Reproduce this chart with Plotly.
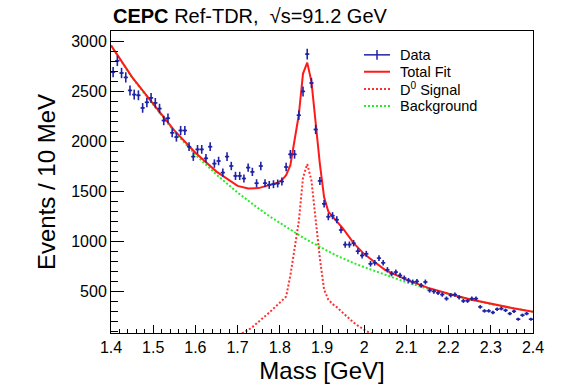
import plotly.graph_objects as go

# ---- data: bin centres (10 MeV bins) and counts ----
mass = [1.405 + 0.01 * i for i in range(100)]
counts = [
    2695, 2808, 2686, 2642, 2512, 2470, 2463, 2337, 2393, 2437,
    2387, 2330, 2211, 2234, 2088, 2045, 2111, 2111, 1949, 1850,
    1922, 1922, 1833, 1949, 1780, 1806, 1690, 1850, 1756, 1657,
    1657, 1631, 1740, 1697, 1584, 1756, 1584, 1567, 1574, 1581,
    1601, 1746, 1873, 1873, 2264, 2502, 2875, 2586, 2121, 1607,
    1378, 1249, 1259, 1219, 1116, 970, 970, 984, 904, 861,
    878, 778, 788, 835, 788, 718, 679, 695, 662, 636,
    612, 596, 602, 562, 596, 512, 502, 487, 470, 430,
    463, 470, 443, 407, 407, 430, 430, 347, 307, 307,
    291, 324, 330, 313, 280, 303, 224, 264, 280, 224,
]
errors = [c ** 0.5 for c in counts]

# ---- fitted curves ----
fit_mass = [1.40, 1.45, 1.50, 1.55, 1.60, 1.65, 1.70, 1.725, 1.75, 1.775, 1.795,
            1.805, 1.815, 1.825, 1.835, 1.845, 1.855, 1.865, 1.875, 1.885, 1.895,
            1.905, 1.915, 1.925, 1.935, 1.95, 1.975, 2.00, 2.05, 2.10, 2.15,
            2.20, 2.25, 2.30, 2.35, 2.40]
background = [2960, 2640, 2370, 2100, 1870, 1670, 1490, 1408, 1330, 1255, 1200,
              1172, 1145, 1118, 1092, 1066, 1040, 1016, 992, 968, 945,
              922, 900, 880, 860, 830, 785, 745, 665, 593, 530,
              472, 421, 376, 335, 298]
total_fit = [2962, 2645, 2378, 2112, 1888, 1700, 1557, 1532, 1535, 1562, 1590,
             1615, 1665, 1765, 2010, 2266, 2680, 2790, 2600, 2168, 1775,
             1442, 1300, 1250, 1205, 1130, 985, 875, 715, 620, 540,
             478, 424, 378, 336, 298]

sig_mass = [1.665, 1.675, 1.685, 1.695, 1.705, 1.715, 1.725, 1.735, 1.745, 1.755,
            1.765, 1.775, 1.785, 1.795, 1.805, 1.815, 1.825, 1.835, 1.845, 1.855,
            1.865, 1.875, 1.885, 1.895, 1.905, 1.915, 1.925, 1.935, 1.945, 1.955,
            1.965, 1.975, 1.985, 1.995, 2.005, 2.015, 2.025, 2.035, 2.045, 2.055]
signal = [30, 38, 45, 55, 70, 90, 115, 145, 180, 215,
          250, 290, 330, 370, 405, 450, 660, 930, 1200, 1640,
          1775, 1610, 1200, 830, 520, 420, 375, 345, 305, 265,
          225, 190, 160, 130, 105, 85, 68, 55, 45, 36]

legend_labels = ["Data", "Total Fit", "D<sup>0</sup> Signal", "Background"]

FONT = "Liberation Sans, Arial, Helvetica, sans-serif"
BLUE = "#1f23a6"
RED = "#ff1a1a"
RED_DOT = "#ff3030"
GREEN = "#22ee22"

fig = go.Figure()

fig.add_trace(go.Scatter(
    x=fit_mass, y=background, mode="lines", showlegend=False,
    line=dict(color=GREEN, width=2, dash="2px,2px"), hoverinfo="skip"))
fig.add_trace(go.Scatter(
    x=sig_mass, y=signal, mode="lines", showlegend=False,
    line=dict(color=RED_DOT, width=2, dash="2px,2px"), hoverinfo="skip"))
fig.add_trace(go.Scatter(
    x=fit_mass, y=total_fit, mode="lines", showlegend=False,
    line=dict(color=RED, width=2), hoverinfo="skip"))
fig.add_trace(go.Scatter(
    x=mass, y=counts, mode="markers", showlegend=False,
    marker=dict(color=BLUE, size=2, symbol="square"),
    error_y=dict(type="data", array=errors, color=BLUE, thickness=1.6, width=0),
    error_x=dict(type="constant", value=0.005, color=BLUE, thickness=1.6, width=0)))

# ---- hand-placed legend (paper coords of the plot area) ----
X0, Y0, W, H = 111, 31, 422, 304          # plot-area box in pixels
def px(x):
    return (x - X0) / W
def py(y):
    return (Y0 + H - y) / H

rows = [55, 72, 89.5, 106.5]
styles = [dict(color=BLUE, width=1.5),
          dict(color=RED, width=2),
          dict(color=RED_DOT, width=2, dash="2px,2px"),
          dict(color=GREEN, width=2, dash="2px,2px")]
for label, yy, st in zip(legend_labels, rows, styles):
    fig.add_shape(type="line", xref="paper", yref="paper",
                  x0=px(364), x1=px(390), y0=py(yy), y1=py(yy), line=st)
    fig.add_annotation(text=label, xref="paper", yref="paper",
                       x=px(398), y=py(yy), xanchor="left", yanchor="middle",
                       showarrow=False, font=dict(size=14.5, family=FONT))
fig.add_shape(type="line", xref="paper", yref="paper",
              x0=px(377), x1=px(377), y0=py(rows[0] - 5), y1=py(rows[0] + 5),
              line=dict(color=BLUE, width=1.5))

fig.add_annotation(text="<b>CEPC</b> Ref-TDR,  √s=91.2 GeV",
                   xref="paper", yref="paper", x=0.0, y=1.0,
                   xanchor="left", yanchor="bottom", yshift=2,
                   showarrow=False, font=dict(size=20, family=FONT))

fig.update_layout(
    width=568, height=391,
    margin=dict(l=111, r=35, t=31, b=56),
    paper_bgcolor="white", plot_bgcolor="white",
    font=dict(family=FONT, color="black"),
    showlegend=False,
)

fig.update_xaxes(
    range=[1.4, 2.4], dtick=0.1, tick0=1.4,
    ticks="inside", ticklen=8, tickcolor="black", tickwidth=1,
    minor=dict(dtick=0.02, ticks="inside", ticklen=4, tickcolor="black"),
    showline=True, linecolor="black", linewidth=1, mirror=True,
    showgrid=False, zeroline=False,
    tickfont=dict(size=16, family=FONT),
    title=dict(text="Mass [GeV]", font=dict(size=24, family=FONT), standoff=6))
fig.update_yaxes(
    range=[86, 3106], dtick=500, tick0=0,
    ticks="inside", ticklen=13, tickcolor="black", tickwidth=1,
    minor=dict(dtick=100, ticks="inside", ticklen=6.5, tickcolor="black"),
    showline=True, linecolor="black", linewidth=1, mirror=True,
    showgrid=False, zeroline=False,
    tickfont=dict(size=16, family=FONT),
    title=dict(text="Events / 10 MeV", font=dict(size=24, family=FONT), standoff=8))

fig.write_html("out.html")
